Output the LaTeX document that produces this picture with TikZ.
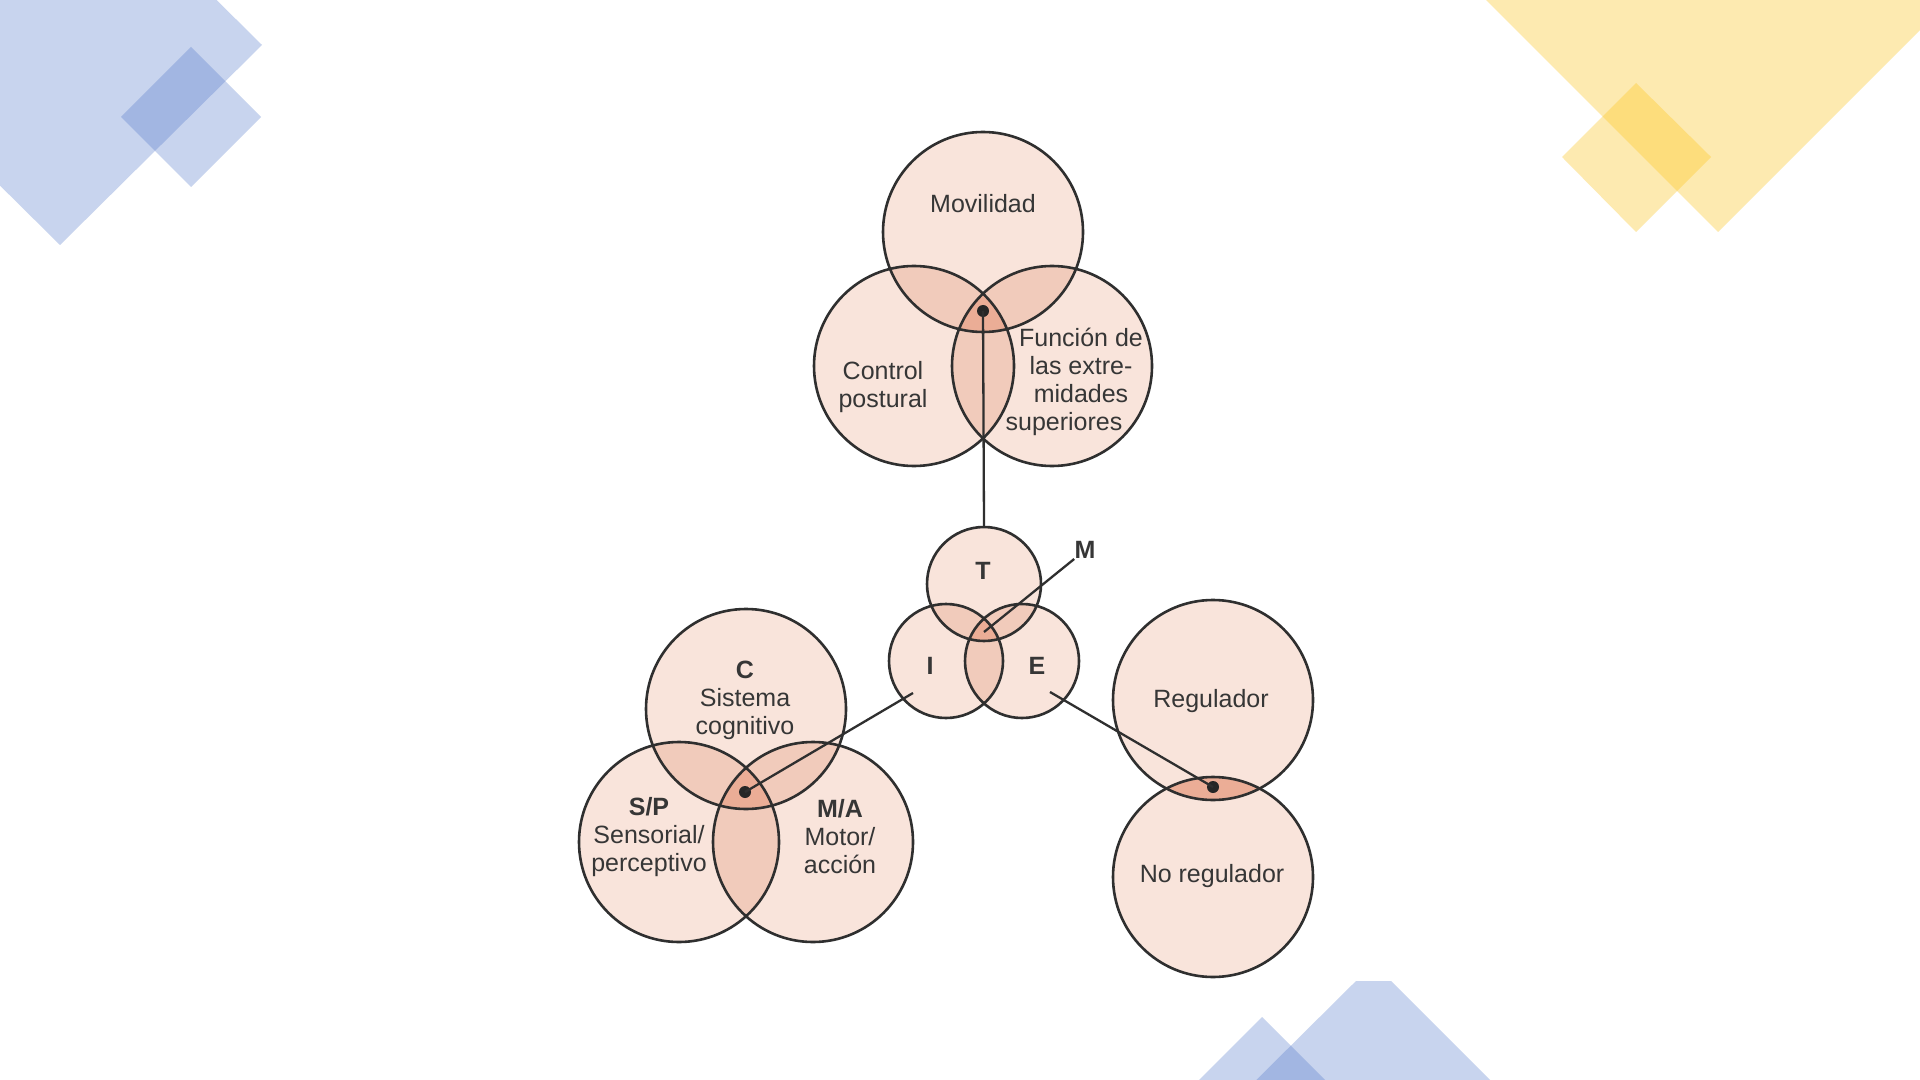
\documentclass[tikz,border=0pt]{standalone}
\usepackage{fontspec}
\setmainfont{Liberation Sans}
\definecolor{blueL}{HTML}{C8D4EE}
\definecolor{blueD}{HTML}{A2B6E2}
\definecolor{yelL}{HTML}{FDEAB0}
\definecolor{yelD}{HTML}{FDDD7C}
\definecolor{pinkA}{HTML}{F9E4DB}
\definecolor{pinkB}{HTML}{F1CBBB}
\definecolor{pinkC}{HTML}{EBAD96}
\definecolor{lineC}{HTML}{2F2F2F}
\definecolor{txt}{HTML}{363636}
\begin{document}
\begin{tikzpicture}[x=0.5pt,y=-0.5pt,
  base/.style={circle,fill=pinkA,inner sep=0pt},
  big/.style={base,minimum size=100pt},
  small/.style={base,minimum size=57pt},
  outline/.style={draw=lineC,line width=1.3pt},
  lbl/.style={text=txt,font=\fontsize{12.5}{14}\selectfont,align=center,inner sep=0pt},
  blbl/.style={lbl,font=\fontsize{12.5}{14}\selectfont\bfseries},
  conn/.style={draw=lineC,line width=1.15pt},
  dot/.style={circle,fill=black!85,inner sep=0pt,minimum size=6pt}]
\useasboundingbox (0,0) rectangle (1920,1080);
\fill[white] (0,0) rectangle (1920,1080);
% ---------- background decorations ----------
\begin{scope}
\clip (0,0) rectangle (1920,1080);
% top-left blue
\fill[blueL] (60,-155) -- (262,45) -- (60,245) -- (-142,45) -- cycle;
\fill[blueL] (191,47) -- (261,117) -- (191,187) -- (121,117) -- cycle;
\begin{scope}
\clip (60,-155) -- (262,45) -- (60,245) -- (-142,45) -- cycle;
\fill[blueD] (191,47) -- (261,117) -- (191,187) -- (121,117) -- cycle;
\end{scope}
% top-right yellow
\fill[yelL] (1718,-368) -- (2018,-68) -- (1718,232) -- (1418,-68) -- cycle;
\fill[yelL] (1636,83) -- (1711,157) -- (1636,232) -- (1562,157) -- cycle;
\begin{scope}
\clip (1718,-368) -- (2018,-68) -- (1718,232) -- (1418,-68) -- cycle;
\fill[yelD] (1636,83) -- (1711,157) -- (1636,232) -- (1562,157) -- cycle;
\end{scope}
% bottom blue
\fill[blueL] (1356,981) -- (1391,981) -- (1520,1110) -- (1226,1110) -- cycle;
\fill[blueL] (1262,1017) -- (1362,1117) -- (1162,1117) -- cycle;
\begin{scope}
\clip (1356,981) -- (1391,981) -- (1520,1110) -- (1226,1110) -- cycle;
\fill[blueD] (1262,1017) -- (1362,1117) -- (1162,1117) -- cycle;
\end{scope}
\end{scope}
% ---------- circles (fills) ----------
\node[big] (mov) at (983,232) {};
\node[big] (ctl) at (914,366) {};
\node[big] (fun) at (1052,366) {};
\node[small] (T) at (984,584) {};
\node[small] (I) at (946,661) {};
\node[small] (E) at (1022,661) {};
\node[big] (C) at (746,709) {};
\node[big] (SP) at (679,842) {};
\node[big] (MA) at (813,842) {};
\node[big] (reg) at (1213,700) {};
\node[big] (noreg) at (1213,877) {};
% ---------- pairwise overlaps ----------
\begin{scope}\clip (mov.center) circle[radius=50pt];
\fill[pinkB] (ctl.center) circle[radius=50pt] (fun.center) circle[radius=50pt];\end{scope}
\begin{scope}\clip (ctl.center) circle[radius=50pt];
\fill[pinkB] (fun.center) circle[radius=50pt];\end{scope}
\begin{scope}\clip (mov.center) circle[radius=50pt];\clip (ctl.center) circle[radius=50pt];
\fill[pinkC] (fun.center) circle[radius=50pt];\end{scope}

\begin{scope}\clip (T.center) circle[radius=28.5pt];
\fill[pinkB] (I.center) circle[radius=28.5pt] (E.center) circle[radius=28.5pt];\end{scope}
\begin{scope}\clip (I.center) circle[radius=28.5pt];
\fill[pinkB] (E.center) circle[radius=28.5pt];\end{scope}
\begin{scope}\clip (T.center) circle[radius=28.5pt];\clip (I.center) circle[radius=28.5pt];
\fill[pinkC] (E.center) circle[radius=28.5pt];\end{scope}

\begin{scope}\clip (C.center) circle[radius=50pt];
\fill[pinkB] (SP.center) circle[radius=50pt] (MA.center) circle[radius=50pt];\end{scope}
\begin{scope}\clip (SP.center) circle[radius=50pt];
\fill[pinkB] (MA.center) circle[radius=50pt];\end{scope}
\begin{scope}\clip (C.center) circle[radius=50pt];\clip (SP.center) circle[radius=50pt];
\fill[pinkC] (MA.center) circle[radius=50pt];\end{scope}

\begin{scope}\clip (reg.center) circle[radius=50pt];
\fill[pinkC] (noreg.center) circle[radius=50pt];\end{scope}
% ---------- outlines ----------
\foreach \n in {mov,ctl,fun,C,SP,MA,reg,noreg}
  \draw[outline] (\n.center) circle[radius=50pt];
\foreach \n in {T,I,E}
  \draw[outline] (\n.center) circle[radius=28.5pt];
% ---------- labels ----------
\node[lbl] (tMov) at (983,204) {Movilidad};
\node[lbl] (tCtl) at (883,387) {Control\\postural};
\node[lbl] (tFun) at (1081,382) {Función de\\las extre-\\midades\\superiores\hspace*{17pt}};
\node[blbl] (tT) at (983,571) {T};
\node[blbl] (tI) at (930,666) {I};
\node[blbl] (tE) at (1037,666) {E};
\node[blbl] (tM) at (1085,550) {M};
\node[lbl] (tC) at (745,700) {\textbf{C}\\Sistema\\cognitivo};
\node[lbl] (tSP) at (649,837) {\textbf{S/P}\\Sensorial/\\perceptivo};
\node[lbl] (tMA) at (840,837) {\textbf{M/A}\\Motor/\\acción};
\node[lbl] (tReg) at (1211,701) {Regulador};
\node[lbl] (tNoReg) at (1212,876) {No regulador};
% ---------- dots and connectors ----------
\node[dot] (dTop) at (983,311) {};
\node[dot] (dC) at (745,792) {};
\node[dot] (dR) at (1213,787) {};
\coordinate (mIn) at (984,632);
\coordinate (iEnd) at (913,693);
\coordinate (eEnd) at (1050,692);
\draw[conn] (dTop.center) -- (T.north);
\draw[conn] (tM.south west) -- (mIn);
\draw[conn] (iEnd) -- (dC.center);
\draw[conn] (eEnd) -- (dR.center);
\end{tikzpicture}
\end{document}
